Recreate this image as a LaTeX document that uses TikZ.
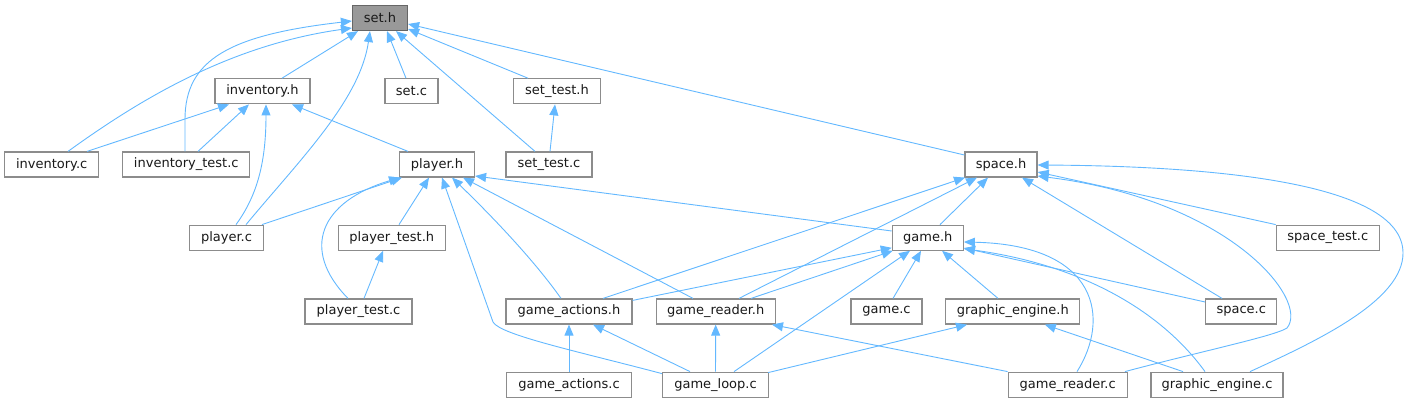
\documentclass[tikz,border=0pt]{standalone}
\usepackage{fontspec}
\setmainfont{DejaVu Sans}
\usetikzlibrary{arrows.meta}
\definecolor{edgeblue}{HTML}{63B8FF}
\definecolor{boxborder}{HTML}{8C8C8C}
\definecolor{rootfill}{HTML}{999999}
\definecolor{rootborder}{HTML}{666666}
\begin{document}
\begin{tikzpicture}[x=1pt,y=-1pt,
  box/.style={draw=boxborder, line width=1.2pt, fill=white, rectangle, minimum height=25pt, inner sep=0pt, font=\fontsize{13}{15}\selectfont, text=black!90},
  root/.style={box, fill=rootfill, draw=rootborder},
  edge/.style={draw=edgeblue, line width=0.9pt, -{Triangle[length=11pt,width=9pt]}}]
\useasboundingbox (0,0) rectangle (1410,403);
% row 1
\node[root, minimum width=55pt] (setH) at (380,18) {set.h};
% row 2
\node[box, minimum width=95pt] (invH) at (262.5,91.3) {inventory.h};
\node[box, minimum width=53pt] (setC) at (411.5,91.3) {set.c};
\node[box, minimum width=87pt] (setTestH) at (557,91.3) {set\_test.h};
% row 3
\node[box, minimum width=94pt] (invC) at (51.7,164.5) {inventory.c};
\node[box, minimum width=127pt] (invTestC) at (186.3,164.5) {inventory\_test.c};
\node[box, minimum width=75pt] (playerH) at (437,164.5) {player.h};
\node[box, minimum width=86pt] (setTestC) at (549,164.5) {set\_test.c};
\node[box, minimum width=72pt] (spaceH) at (1001,164.5) {space.h};
% row 4
\node[box, minimum width=74pt] (playerC) at (226.5,237.7) {player.c};
\node[box, minimum width=107pt] (playerTestH) at (391.8,237.7) {player\_test.h};
\node[box, minimum width=71pt] (gameH) at (927.8,237.7) {game.h};
\node[box, minimum width=103pt] (spaceTestC) at (1327.8,237.7) {space\_test.c};
% row 5
\node[box, minimum width=107pt] (playerTestC) at (358.5,311.5) {player\_test.c};
\node[box, minimum width=126pt] (gameActH) at (569,311.5) {game\_actions.h};
\node[box, minimum width=119pt] (gameReadH) at (715.7,311.5) {game\_reader.h};
\node[box, minimum width=71pt] (gameC) at (886.5,311.5) {game.c};
\node[box, minimum width=134pt] (gfxH) at (1012.8,311.5) {graphic\_engine.h};
\node[box, minimum width=71pt] (spaceC) at (1241.2,311.5) {space.c};
% row 6
\node[box, minimum width=125pt] (gameActC) at (569,384.7) {game\_actions.c};
\node[box, minimum width=106pt] (gameLoopC) at (715.5,384.7) {game\_loop.c};
\node[box, minimum width=119pt] (gameReadC) at (1067.7,384.7) {game\_reader.c};
\node[box, minimum width=132pt] (gfxC) at (1217,384.7) {graphic\_engine.c};
% helper bends
\coordinate (bendLoop) at (493,322);
\coordinate (bendRead) at (1287,328);
\coordinate (bendGfx) at (1403,253);
% edges to set.h
\draw[edge] ([shift={(19.5,0)}]invH.north) -- ([shift={(-22,0)}]setH.south);
\draw[edge] ([shift={(16.3,0)}]invC.north) .. controls +(72,-52) and +(-122,17) .. ([shift={(0,10)}]setH.west);
\draw[edge] ([shift={(-1.3,0)}]invTestC.north) -- ++(0,-32) .. controls +(0,-60) and +(-122,14) .. ([shift={(0,3)}]setH.west);
\draw[edge] ([shift={(19.5,0)}]playerC.north) .. controls +(54,-65) and +(-10,69) .. ([shift={(-10,0)}]setH.south);
\draw[edge] ([shift={(-5.5,0)}]setC.north) -- ([shift={(7,0)}]setH.south);
\draw[edge] ([shift={(-14,0)}]setTestC.north) -- ([shift={(16,0)}]setH.south);
\draw[edge] ([shift={(-29,0)}]setTestH.north) -- ([shift={(0,11)}]setH.east);
\draw[edge] ([shift={(0,-9.5)}]spaceH.west) -- ([shift={(0,6)}]setH.east);
% edges to inventory.h
\draw[edge] ([shift={(35.3,0)}]invC.north) -- ([shift={(-33.5,0)}]invH.south);
\draw[edge] ([shift={(11.7,0)}]invTestC.north) -- ([shift={(-13.5,0)}]invH.south);
\draw[edge] ([shift={(9.5,0)}]playerC.north) .. controls +(22,-30) and +(0,56) .. ([shift={(3.5,0)}]invH.south);
\draw[edge] ([shift={(-29,0)}]playerH.north) -- ([shift={(29.5,0)}]invH.south);
% set_test.h
\draw[edge] ([shift={(1,0)}]setTestC.north) -- ([shift={(-2,0)}]setTestH.south);
% edges to player.h
\draw[edge] ([shift={(35.5,0)}]playerC.north) -- ([shift={(-35,0)}]playerH.south);
\draw[edge] ([shift={(7.2,0)}]playerTestH.north) -- ([shift={(-8,0)}]playerH.south);
\draw[edge] ([shift={(-10.5,0)}]playerTestC.north) .. controls +(-48,-49) and +(-80,24) .. ([shift={(-37,0)}]playerH.south);
\draw[edge] ([shift={(0,2)}]gameLoopC.north west) .. controls +(-83,-22) and +(7,13) .. (bendLoop) -- ([shift={(5,0)}]playerH.south);
\draw[edge] ([shift={(-8,0)}]gameActH.north) .. controls +(-31,-44) and +(28,27) .. ([shift={(15,0)}]playerH.south);
\draw[edge] ([shift={(-22.7,0)}]gameReadH.north) -- ([shift={(26,0)}]playerH.south);
\draw[edge] ([shift={(0,-6.7)}]gameH.west) -- ([shift={(0,11.5)}]playerH.east);
% player_test.h
\draw[edge] ([shift={(5.5,0)}]playerTestC.north) -- ([shift={(-8.8,0)}]playerTestH.south);
% edges to space.h
\draw[edge] ([shift={(34,0)}]gameActH.north) -- ([shift={(-36,0)}]spaceH.south);
\draw[edge] ([shift={(23.3,0)}]gameReadH.north) -- ([shift={(-24,0)}]spaceH.south);
\draw[edge] ([shift={(12.2,0)}]gameH.north) -- ([shift={(-13,0)}]spaceH.south);
\draw[edge] ([shift={(-19.2,0)}]spaceC.north) -- ([shift={(21,0)}]spaceH.south);
\draw[edge] (spaceTestC.north west) -- ([shift={(0,7.5)}]spaceH.east);
\draw[edge] ([shift={(57.3,0)}]gameReadC.north) .. controls +(75,-20) and +(-12,8) .. (bendRead) .. controls +(23,-28) and +(192,24) .. ([shift={(0,11.5)}]spaceH.east);
\draw[edge] ([shift={(33,0)}]gfxC.north) .. controls +(70,-32) and +(0,47) .. (bendGfx) .. controls +(0,-73) and +(162,1) .. ([shift={(0,0.5)}]spaceH.east);
% edges to game.h
\draw[edge] ([shift={(0,2)}]gameActH.north east) -- ([shift={(0,-3)}]gameH.south west);
\draw[edge] ([shift={(35.3,0)}]gameReadH.north) -- ([shift={(1,0)}]gameH.south west);
\draw[edge] ([shift={(18.5,0)}]gameLoopC.north) -- ([shift={(-17.8,0)}]gameH.south);
\draw[edge] ([shift={(6.5,0)}]gameC.north) -- ([shift={(-6.8,0)}]gameH.south);
\draw[edge] ([shift={(-14.8,0)}]gfxH.north) -- ([shift={(14.2,0)}]gameH.south);
\draw[edge] ([shift={(0,-9.5)}]spaceC.west) -- ([shift={(0,10.3)}]gameH.east);
\draw[edge] ([shift={(9.3,0)}]gameReadC.north) .. controls +(33,-52) and +(136,3) .. ([shift={(0,4.3)}]gameH.east);
\draw[edge] ([shift={(-12,0)}]gfxC.north) .. controls +(-45,-62) and +(116,16) .. ([shift={(0,11)}]gameH.east);
% game_actions.h
\draw[edge] (gameActC.north) -- (gameActH.south);
\draw[edge] ([shift={(-25.5,0)}]gameLoopC.north) -- ([shift={(24,0)}]gameActH.south);
% game_reader.h
\draw[edge] (gameLoopC.north) -- (gameReadH.south);
\draw[edge] (gameReadC.north west) -- ([shift={(56.3,0)}]gameReadH.south);
% graphic_engine.h
\draw[edge] ([shift={(-1,1)}]gameLoopC.north east) -- ([shift={(-45.8,0)}]gfxH.south);
\draw[edge] ([shift={(-34,0)}]gfxC.north) -- ([shift={(32,0)}]gfxH.south);
\end{tikzpicture}
\end{document}
